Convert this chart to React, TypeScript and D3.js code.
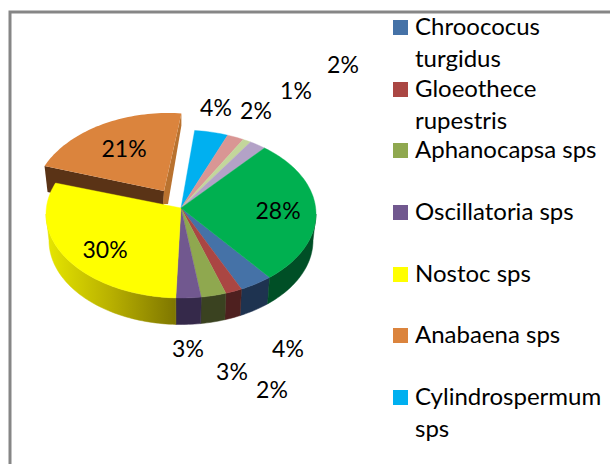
import React from "react";
import * as d3 from "d3";

const shares = [4, 2, 3, 3, 30.4, 20.6, 4, 2, 1, 2, 28];
const faceColors = ["#4572A7","#AA4643","#8FA84F","#71588F","#FFFF00","#DB843D","#00B0F0","#D99694","#C3D69B","#B3A2C7","#00B050"];
const wallColors = ["#1E3350","#4E201F","#3A4220","#35294A","url(#nostocWall)","#5A3316","#005070","#6A4645","#5A6347","#524A5C","#004F26"];
const legendLines = [["Chroococus","turgidus"],["Gloeothece","rupestris"],["Aphanocapsa sps"],["Oscillatoria sps"],["Nostoc sps"],["Anabaena sps"],["Cylindrospermum","sps"]];
const legendRows = [20, 82, 143, 205, 267, 328, 390];
const labelAnchors: [number, number][] = [[288,349],[272,390],[232,372],[188,349],[105,250],[124,149],[216,108],[256,111],[296,91],[343,65],[278,211]];

const rad = Math.PI / 180;
const apex = { x: 181, y: 208 };
const rim = { cy: 214, rx: 135, ry: 84 };
const floor = { rx: 132, drop: 26.5 };
const anabaena = { index: 5, dx: -17, dy: -17, rx: 130, shear: 0.055 };

const arcs = d3.pie<number>().sort(null).startAngle(139 * rad).endAngle(499 * rad)(shares);

const steps = (a0: number, a1: number) => {
  const n = Math.max(2, Math.ceil((a1 - a0) / (1.5 * rad)));
  return d3.range(n + 1).map((i) => a0 + ((a1 - a0) * i) / n);
};
const top = (a: number): [number, number] => [apex.x + rim.rx * Math.sin(a), rim.cy - rim.ry * Math.cos(a)];
const bottom = (a: number): [number, number] => [apex.x + floor.rx * Math.sin(a), rim.cy + floor.drop - rim.ry * Math.cos(a)];
const line = d3.line();
const closed = (pts: [number, number][]) => line(pts) + "Z";

const aTop = (a: number): [number, number] => {
  const yRel = rim.cy - rim.ry * Math.cos(a) - apex.y;
  return [apex.x + anabaena.dx + anabaena.rx * Math.sin(a) - anabaena.shear * yRel, apex.y + anabaena.dy + yRel];
};

export default function App() {
  const a = arcs[anabaena.index];
  const arcPts = steps(a.startAngle, a.endAngle).map(aTop);
  const tip: [number, number] = [apex.x + anabaena.dx, apex.y + anabaena.dy];
  const c0 = arcPts[0];
  const c1 = arcPts[arcPts.length - 1];
  const front: [number, number][] = [c0, tip, [tip[0] - 1, tip[1] + 27], [c0[0] + 3, c0[1] + 26]];
  const side: [number, number][] = [tip, c1, [c1[0], c1[1] + 12], [tip[0] + 4, tip[1] + 13], [tip[0] - 1, tip[1] + 13]];
  return (
    <svg width={610} height={464} style={{ position: "fixed", left: 0, top: 0, background: "#fff" }} fontFamily="Lato, Carlito, sans-serif">
      <defs>
        <linearGradient id="nostocWall" gradientUnits="userSpaceOnUse" x1={47} x2={175} y1={0} y2={0}>
          <stop offset="0" stopColor="#E6E600" />
          <stop offset="0.5" stopColor="#B8B000" />
          <stop offset="1" stopColor="#7F7700" />
        </linearGradient>
      </defs>
      <path d="M10,464V12H610" fill="none" stroke="#868686" strokeWidth={3} />
      <path d={closed(front)} fill={wallColors[anabaena.index]} />
      <path d={closed(side)} fill="#B9722F" />
      <path d={closed([tip, ...arcPts])} fill={faceColors[anabaena.index]} />
      {arcs.map((s, i) => {
        if (i === anabaena.index) return null;
        const turn = s.startAngle >= 2 * Math.PI ? 2 * Math.PI : 0;
        const a0 = Math.max(s.startAngle - turn, 90 * rad);
        const a1 = Math.min(s.endAngle - turn, 270 * rad);
        if (a1 <= a0) return null;
        const t = steps(a0, a1);
        return <path key={i} d={closed([...t.map(top), ...[...t].reverse().map(bottom)])} fill={wallColors[i]} stroke={wallColors[i]} strokeWidth={0.5} />;
      })}
      {arcs.map((s, i) =>
        i === anabaena.index ? null : (
          <path key={i} d={closed([[apex.x, apex.y], ...steps(s.startAngle, s.endAngle).map(top)])} fill={faceColors[i]} stroke={faceColors[i]} strokeWidth={0.4} />
        )
      )}
      <g fontSize={23} fill="#000" textAnchor="middle">
        {shares.map((v, i) => (
          <text key={i} x={labelAnchors[i][0]} y={labelAnchors[i][1] + 8}>{Math.round(v)}%</text>
        ))}
      </g>
      <g fontSize={24} fill="#000">
        {legendLines.map((lines, i) => (
          <g key={i}>
            <rect x={393} y={legendRows[i]} width={15} height={15} fill={faceColors[i]} />
            {lines.map((t, j) => (
              <text key={j} x={415} y={legendRows[i] + 15 + j * 32}>{t}</text>
            ))}
          </g>
        ))}
      </g>
    </svg>
  );
}
